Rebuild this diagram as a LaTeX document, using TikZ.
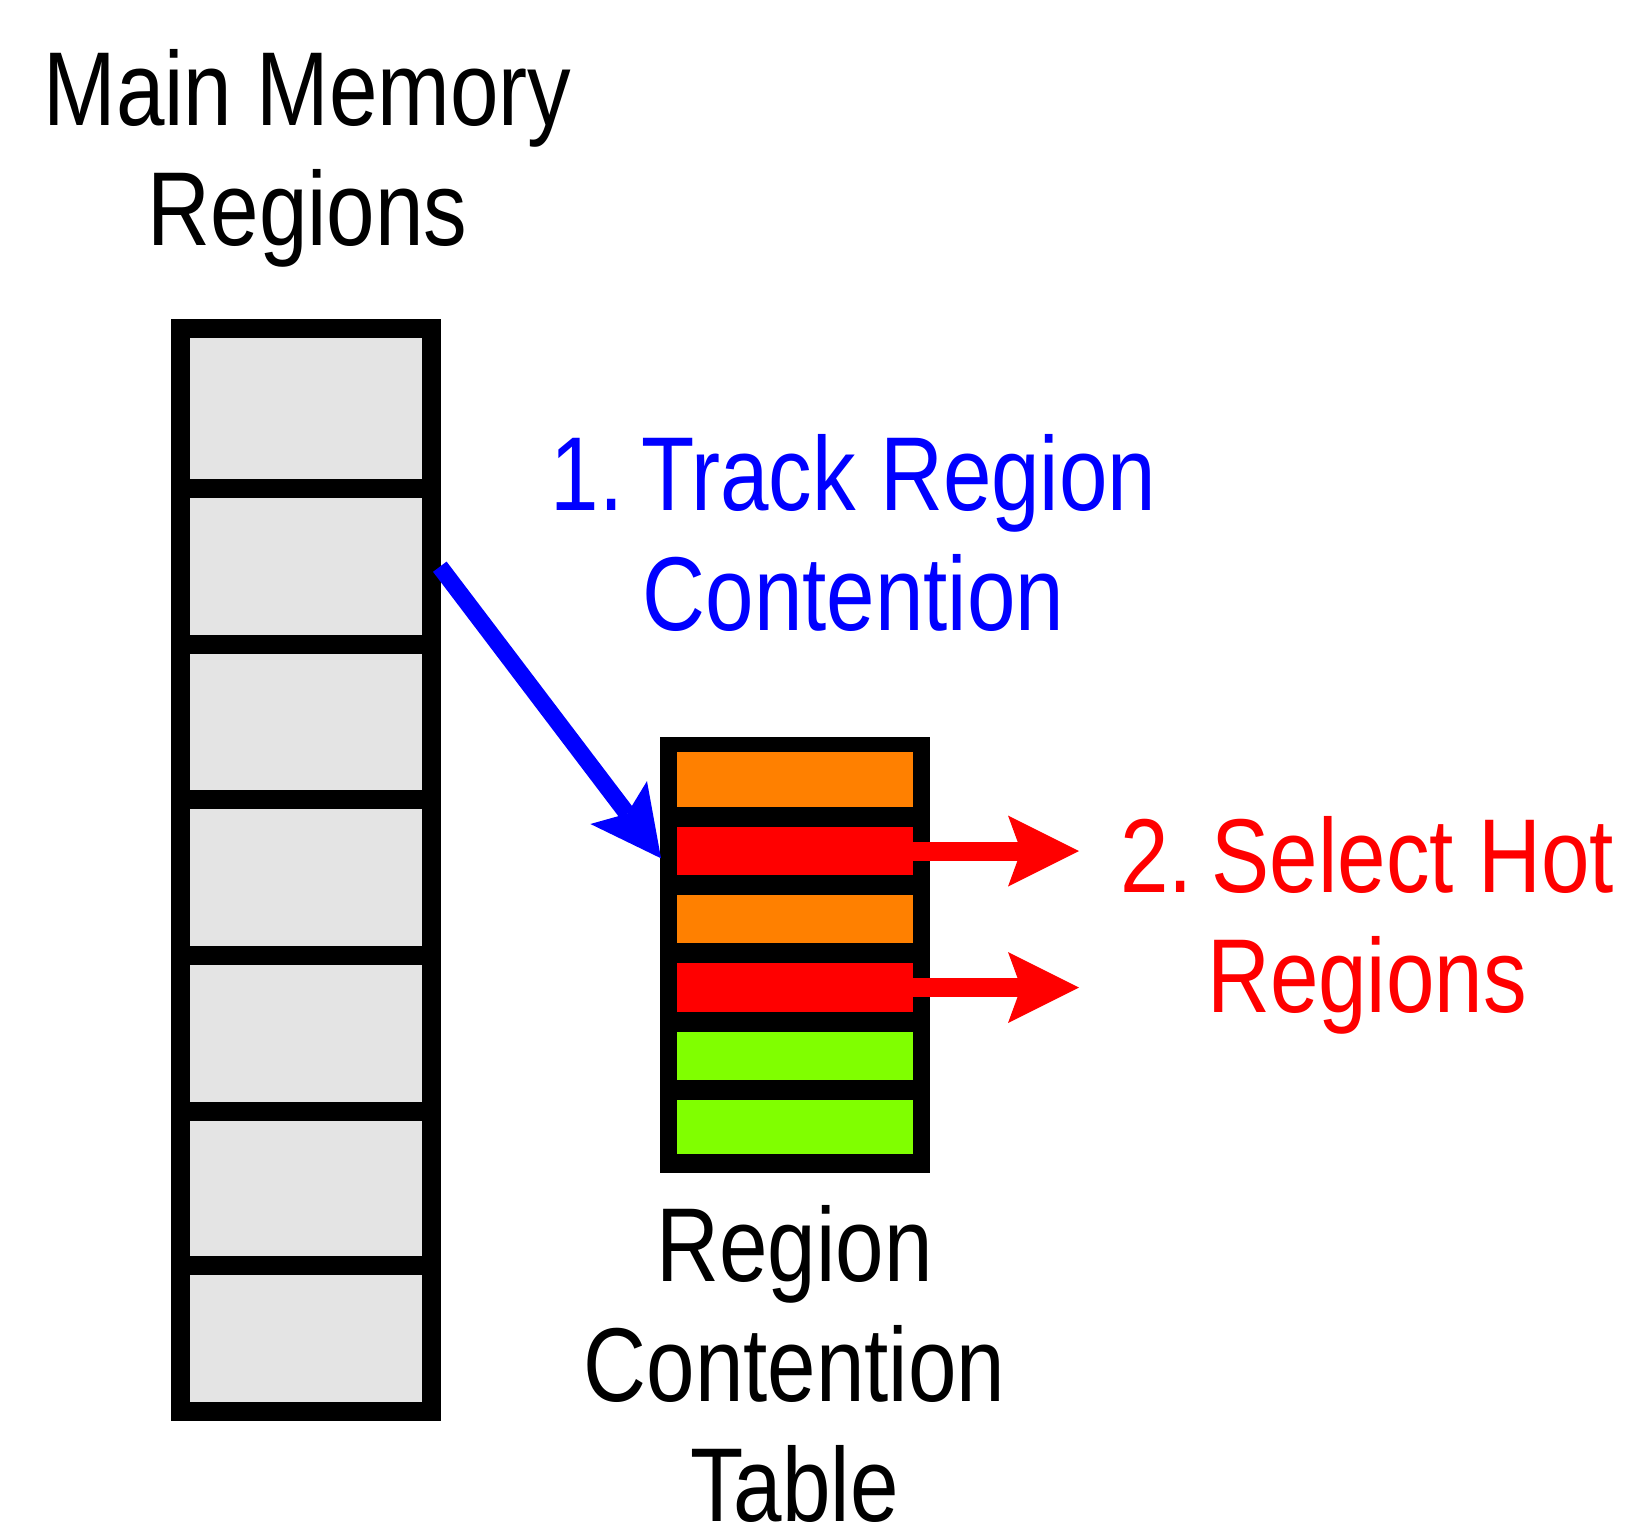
\documentclass[tikz,border=0pt]{standalone}
\usepackage{fontspec}
\newfontfamily\lab[FakeStretch=0.83]{Liberation Sans}
\usetikzlibrary{arrows.meta,calc}
\definecolor{memgray}{RGB}{228,228,228}
\definecolor{rowor}{RGB}{255,128,0}
\definecolor{rowred}{RGB}{255,0,0}
\definecolor{rowgr}{RGB}{128,255,0}
\definecolor{txtblue}{RGB}{0,0,255}
\begin{document}
\begin{tikzpicture}[x=1pt,y=-1pt,
  memcell/.style={draw=black, fill=memgray, line width=19pt, inner sep=0pt, outer sep=0pt, minimum width=251.8pt},
  tabrow/.style={fill=#1, draw=none, inner sep=0pt, outer sep=0pt, minimum width=236.3pt},
  lbl/.style={font=\lab\fontsize{105}{120}\selectfont, align=center, inner sep=0pt, outer sep=0pt, anchor=north},
  hotarrow/.style={draw=rowred, line width=19pt, -{Stealth[length=71pt,width=71pt,inset=13pt,line width=0pt]}},
  trackarrow/.style={draw=txtblue, line width=17pt, -{Stealth[length=70pt,width=71pt,inset=14pt,line width=0pt]}}]
\useasboundingbox (0,0) rectangle (1630,1521);
\fill[white] (0,0) rectangle (1630,1521);
% main memory regions
\node[memcell, minimum height=160pt]   (m1) at (305.9,408.7) {};
\node[memcell, minimum height=156pt]   (m2) at (305.9,566.7) {};
\node[memcell, minimum height=155pt]   (m3) at (305.9,722.2) {};
\node[memcell, minimum height=155.3pt] (m4) at (305.9,877.35) {};
\node[memcell, minimum height=156pt]   (m5) at (305.9,1033) {};
\node[memcell, minimum height=154.9pt] (m6) at (305.9,1188.45) {};
\node[memcell, minimum height=145.9pt] (m7) at (305.9,1338.85) {};
% region contention table
\node[fill=black, inner sep=0pt, outer sep=0pt, minimum width=270pt, minimum height=435.7pt] (rct) at (795,955.15) {};
\node[tabrow=rowor, minimum height=55pt]   (r1) at (794.85,779.8) {};
\node[tabrow=rowred, minimum height=48.6pt] (r2) at (794.85,851) {};
\node[tabrow=rowor, minimum height=48.3pt] (r3) at (794.85,919.15) {};
\node[tabrow=rowred, minimum height=48.4pt] (r4) at (794.85,987.5) {};
\node[tabrow=rowgr, minimum height=48.3pt] (r5) at (794.85,1055.85) {};
\node[tabrow=rowgr, minimum height=54.6pt] (r6) at (794.85,1127) {};
% labels
\node[lbl] (t1) at (307.5,49) {Main Memory\\Regions};
\node[lbl, text=txtblue] (t2) at (853.5,434) {1.\hspace{18pt}Track Region\\Contention};
\node[lbl, text=rowred] (t3) at (1367,816) {2.\hspace{19pt}Select Hot\\Regions};
\node[lbl] (t4) at (794.5,1205.7) {Region\\Contention\\Table};
% connectors
\coordinate (hx) at (1079,851);
\coordinate (bt) at (661,858.3);
\draw[trackarrow] ($(m2.east)+(8,0)$) -- (bt);
\draw[hotarrow] (r2.east) -- (r2.east -| hx);
\draw[hotarrow] (r4.east) -- (r4.east -| hx);
\end{tikzpicture}
\end{document}
